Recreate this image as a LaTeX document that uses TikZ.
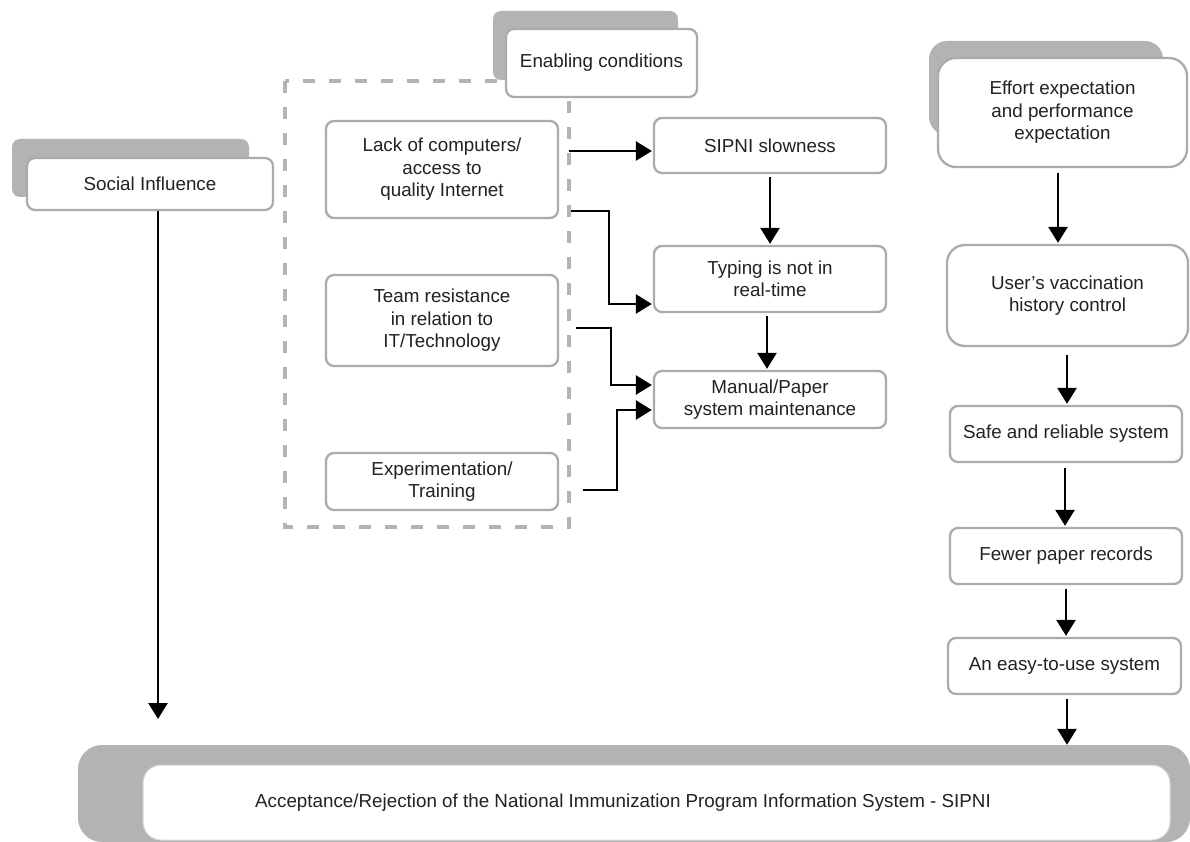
\documentclass[tikz,border=0pt]{standalone}
\usepackage{fontspec}
\setmainfont{Liberation Sans}
\usetikzlibrary{calc,arrows.meta}
\definecolor{shd}{HTML}{B3B3B3}
\definecolor{bord}{HTML}{ABABAB}
\definecolor{txt}{HTML}{222222}
\begin{document}
\begin{tikzpicture}[x=1pt,y=-1pt,
  font=\fontsize{18.8}{22.4}\selectfont, text=txt,
  box/.style={draw=bord, line width=2.3pt, fill=white, rounded corners=8pt, align=center, inner sep=0pt},
  bigbox/.style={box, rounded corners=18pt},
  arr/.style={line width=2.6pt, -{Triangle[length=16pt,width=19pt]}, shorten >=1pt},
  shadowbox/.style={fill=shd, inner sep=0pt}]
\useasboundingbox (0,0) rectangle (1190,842);

% shadows
\node[shadowbox, rounded corners=8pt, minimum width=237pt, minimum height=58pt] (socsh) at (130.5,168) {};
\node[shadowbox, rounded corners=8pt, minimum width=185pt, minimum height=69pt] (enash) at (585.5,45.5) {};
\node[shadowbox, rounded corners=18pt, minimum width=234pt, minimum height=94pt] (effsh) at (1046,88) {};
\node[shadowbox, rounded corners=24pt, minimum width=1112pt, minimum height=97pt] (accsh) at (634,793.5) {};

% dashed frame
\draw[shd, line width=4.5pt, dash pattern=on 12pt off 14pt] (285,81) rectangle (569,527);

% nodes
\node[box, minimum width=246pt, minimum height=52pt] (soc) at (150,184) {Social Influence};
\node[box, minimum width=191pt, minimum height=68pt] (ena) at (601.5,63) {Enabling conditions};
\node[box, minimum width=232pt, minimum height=97pt] (lack) at (442,169.5) {Lack of computers/\\access to\\quality Internet};
\node[box, minimum width=232pt, minimum height=91pt] (team) at (442,320.5) {Team resistance\\in relation to\\IT/Technology};
\node[box, minimum width=232pt, minimum height=57pt] (exp) at (442,481.5) {Experimentation/\\Training};
\node[box, minimum width=232pt, minimum height=55pt] (slow) at (770,145.5) {SIPNI slowness};
\node[box, minimum width=232pt, minimum height=66pt] (typ) at (770,279) {Typing is not in\\real-time};
\node[box, minimum width=232pt, minimum height=57pt] (man) at (770,399.5) {Manual/Paper\\system maintenance};
\node[bigbox, minimum width=249pt, minimum height=109pt] (eff) at (1062.5,112.5) {Effort expectation\\and performance\\expectation};
\node[bigbox, minimum width=241pt, minimum height=101pt] (usr) at (1067.5,295.5) {User’s vaccination\\history control};
\node[box, minimum width=232pt, minimum height=56pt] (safe) at (1066,434) {Safe and reliable system};
\node[box, minimum width=232pt, minimum height=56pt] (few) at (1066,556) {Fewer paper records};
\node[box, minimum width=233pt, minimum height=56pt] (easy) at (1064.5,666) {An easy-to-use system};
\node[box, draw=bord!50, line width=1pt, rounded corners=18pt, minimum width=1027pt, minimum height=75pt] (acc) at (656.5,802.5) {};
\node (acctext) at (623,803) {Acceptance/Rejection of the National Immunization Program Information System - SIPNI};

% connectors
\coordinate (socend) at (158,719);
\draw[arr, shorten >=0pt] (soc.south -| socend) -- (socend);

\draw[arr] ($(lack.east)+(10,-18.5)$) -- ($(slow.west)+(0,5.5)$);
\draw[arr] ($(lack.east)+(12,41.5)$) -| ($(typ.west)+(-44,25)$) -- ($(typ.west)+(0,25)$);
\draw[arr] ($(slow.south)+(0,3)$) -- (typ.north);
\draw[arr] ($(typ.south)+(-3,3)$) -- ($(man.north)+(-3,0)$);
\draw[arr] ($(team.east)+(17,7.5)$) -| ($(man.west)+(-42,-14.5)$) -- ($(man.west)+(0,-14.5)$);
\draw[arr] ($(exp.east)+(24,8.5)$) -| ($(man.west)+(-36,10.5)$) -- ($(man.west)+(0,10.5)$);

\draw[arr] ($(eff.south)+(-4.5,5)$) -- ($(usr.north)+(-9.5,0)$);
\draw[arr] ($(usr.south)+(-0.5,8)$) -- ($(safe.north)+(1,0)$);
\draw[arr] ($(safe.south)+(-1,5)$) -- ($(few.north)+(-1,0)$);
\draw[arr] ($(few.south)+(0,4)$) -- ($(easy.north)+(1.5,0)$);
\draw[arr, shorten >=0pt] ($(easy.south)+(2.5,4)$) -- ($(accsh.north)+(433,0)$);
\end{tikzpicture}
\end{document}
